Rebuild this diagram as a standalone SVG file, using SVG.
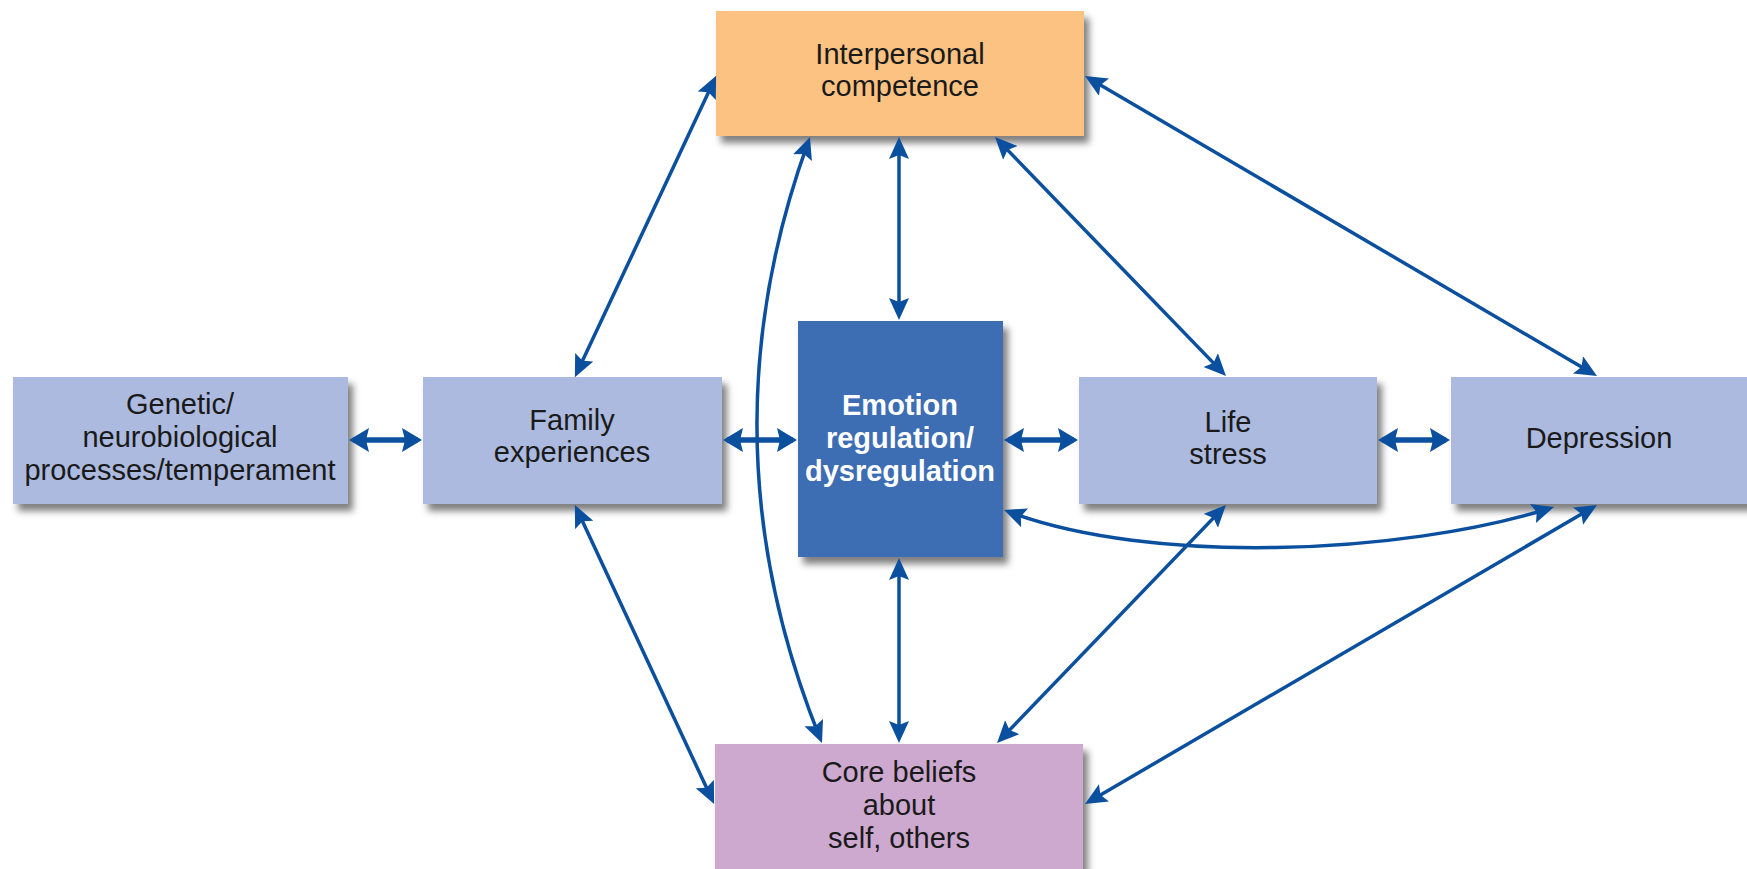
<svg xmlns="http://www.w3.org/2000/svg" width="1747" height="869" viewBox="0 0 1747 869">
<style>
  .box { filter: url(#sh); }
  .lt { fill: #adbadf; }
  .txt { font-family: "Liberation Sans", Arial, sans-serif; font-size: 29px; fill: #1a1a1a; text-anchor: middle; }
  .wt { font-family: "Liberation Sans", Arial, sans-serif; font-size: 29px; font-weight: bold; fill: #ffffff; text-anchor: middle; }
  .c { fill: none; stroke: #0b4f9f; stroke-width: 3.5; marker-start: url(#ah); marker-end: url(#ah); }
  .ct { fill: none; stroke: #0b4f9f; stroke-width: 5.5; marker-start: url(#ahb); marker-end: url(#ahb); }
</style>
<defs>
  <filter id="sh" x="-10%" y="-10%" width="130%" height="140%">
    <feDropShadow dx="5" dy="7" stdDeviation="3.5" flood-color="#000" flood-opacity="0.5"/>
  </filter>
  <marker id="ah" markerUnits="userSpaceOnUse" markerWidth="26" markerHeight="24" refX="17" refY="10" orient="auto-start-reverse">
    <path d="M0,0 L22,10 L0,20 L4,10 z" fill="#0b4f9f"/>
  </marker>
  <marker id="ahb" markerUnits="userSpaceOnUse" markerWidth="26" markerHeight="28" refX="16" refY="12" orient="auto-start-reverse">
    <path d="M0,0 L20,12 L0,24 L3,12 z" fill="#0b4f9f"/>
  </marker>
</defs>
<rect width="1747" height="869" fill="#ffffff"/>

<g id="interpersonal">
  <rect class="box" x="716" y="11" width="368" height="125" fill="#fcc282"/>
  <text class="txt" x="900" y="64">Interpersonal</text>
  <text class="txt" x="900" y="96">competence</text>
</g>
<g id="genetic">
  <rect class="box lt" x="13" y="377" width="335" height="127"/>
  <text class="txt" x="180" y="414">Genetic/</text>
  <text class="txt" x="180" y="447">neurobiological</text>
  <text class="txt" x="180" y="480">processes/temperament</text>
</g>
<g id="family">
  <rect class="box lt" x="423" y="377" width="299" height="127"/>
  <text class="txt" x="572" y="430">Family</text>
  <text class="txt" x="572" y="462">experiences</text>
</g>
<g id="emotion">
  <rect class="box" x="798" y="321" width="205" height="236" fill="#3d6db3"/>
  <text class="wt" x="900" y="415">Emotion</text>
  <text class="wt" x="900" y="448">regulation/</text>
  <text class="wt" x="900" y="481">dysregulation</text>
</g>
<g id="life">
  <rect class="box lt" x="1079" y="377" width="298" height="127"/>
  <text class="txt" x="1228" y="432">Life</text>
  <text class="txt" x="1228" y="464">stress</text>
</g>
<g id="depression">
  <rect class="box lt" x="1451" y="377" width="300" height="127"/>
  <text class="txt" x="1599" y="448">Depression</text>
</g>
<g id="core">
  <rect class="box" x="715" y="744" width="368" height="135" fill="#cda9d0"/>
  <text class="txt" x="899" y="782">Core beliefs</text>
  <text class="txt" x="899" y="815">about</text>
  <text class="txt" x="899" y="848">self, others</text>
</g>

<g id="connectors">
  <line class="ct" x1="353" y1="440" x2="418" y2="440"/>
  <line class="ct" x1="727" y1="440" x2="793" y2="440"/>
  <line class="ct" x1="1008" y1="440" x2="1074" y2="440"/>
  <line class="ct" x1="1382" y1="440" x2="1446" y2="440"/>
  <line class="c" x1="577" y1="372.6" x2="714" y2="80.4"/>
  <line class="c" x1="899" y1="142" x2="899" y2="315"/>
  <line class="c" x1="998.5" y1="140.6" x2="1222.5" y2="372.4"/>
  <line class="c" x1="1089.3" y1="78.5" x2="1592.7" y2="373.5"/>
  <path class="c" d="M808.3,141.7 Q700,440 820.1,738.4"/>
  <line class="c" x1="577" y1="509.5" x2="712" y2="799.5"/>
  <line class="c" x1="899" y1="563" x2="899" y2="738"/>
  <line class="c" x1="1222.5" y1="508.6" x2="1000.5" y2="739.4"/>
  <line class="c" x1="1592.7" y1="507.5" x2="1089.3" y2="801.5"/>
  <path class="c" d="M1008.7,511.8 C1150,565 1400,555 1549.2,508.5"/>
</g>
</svg>
